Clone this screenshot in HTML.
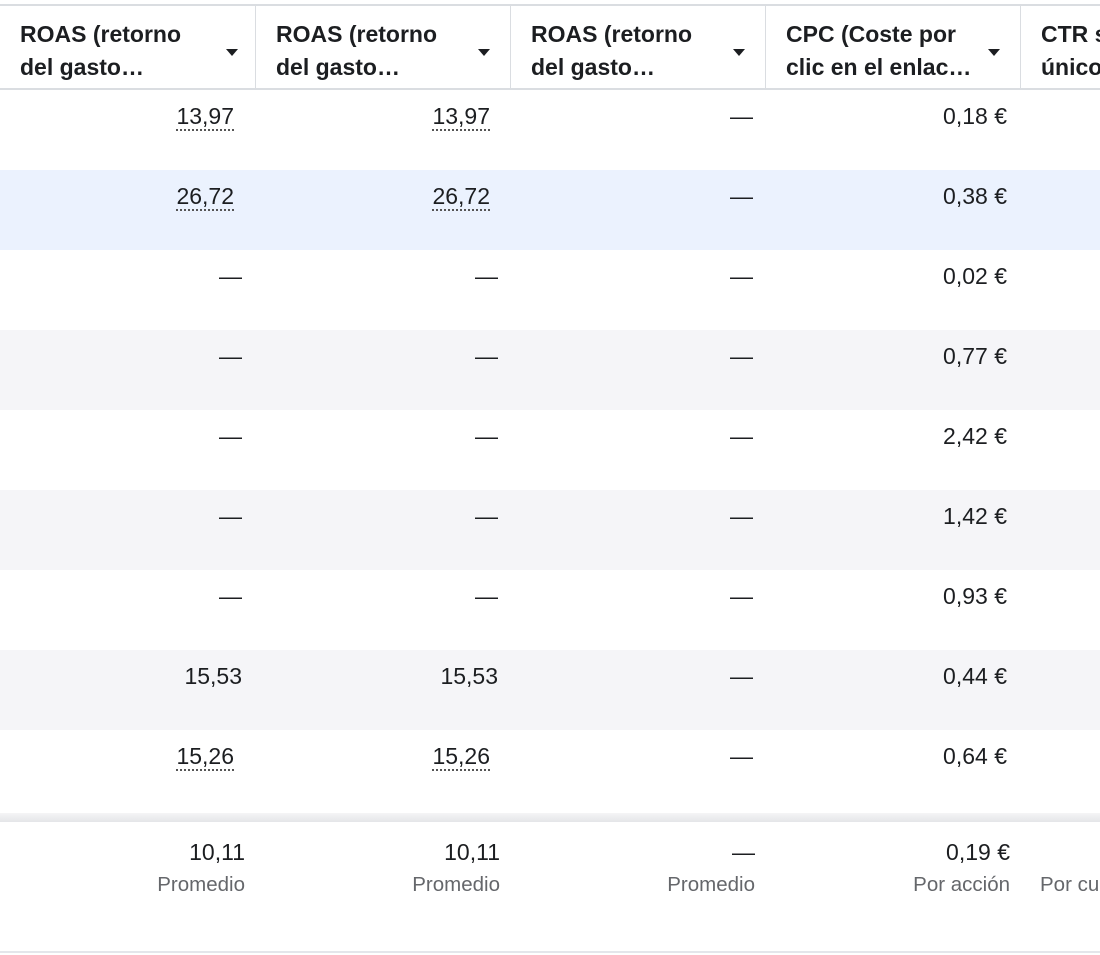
<!DOCTYPE html>
<html><head><meta charset="utf-8"><style>
html,body{margin:0;width:1100px;height:955px;overflow:hidden}
body{background:#fff;font-family:"Liberation Sans",sans-serif;color:#1c1e21;position:relative}
.abs{position:absolute}
.hdr{top:6px;height:83px;border-right:1px solid #dadde1;box-sizing:border-box;overflow:hidden}
.ht{position:absolute;left:20px;top:12px;font-size:23px;font-weight:bold;line-height:33px;white-space:nowrap}
.arrow{position:absolute;top:43px;width:0;height:0;border-left:6px solid transparent;border-right:6px solid transparent;border-top:7px solid #1c1e21}
.row{left:0;width:1100px;height:80px;overflow:hidden}
.v{position:absolute;font-size:23px;line-height:26px;text-align:right;white-space:nowrap}
.u{border-bottom:2px dotted #555;line-height:22px}
.sub{position:absolute;font-size:20.5px;color:#65676b;text-align:right;white-space:nowrap}
#footer{position:absolute;left:0;top:0;width:1100px;height:955px;overflow:hidden}
</style></head><body>
<div class="abs" style="left:0;top:4px;width:1100px;height:2px;background:#dadde1"></div>
<div id="header"></div>
<div class="abs" style="left:0;top:88px;width:1100px;height:2px;background:#dadde1"></div>
<div id="body"></div>
<div class="abs" style="left:0;top:813px;width:1100px;height:9px;background:linear-gradient(#f5f5f6,#e4e5e8)"></div>
<div id="footer"></div>
<div class="abs" style="left:0;top:951px;width:1100px;height:2px;background:#e4e6eb"></div>
<script>
const headers=[["ROAS (retorno","del gasto…"],["ROAS (retorno","del gasto…"],["ROAS (retorno","del gasto…"],["CPC (Coste por","clic en el enlac…"],["CTR sin","único"]];
const col1=["13,97","26,72","—","—","—","—","—","15,53","15,26"];
const col2=["13,97","26,72","—","—","—","—","—","15,53","15,26"];
const col3=["—","—","—","—","—","—","—","—","—"];
const col4=["0,18 €","0,38 €","0,02 €","0,77 €","2,42 €","1,42 €","0,93 €","0,44 €","0,64 €"];
const dotted=[true,true,false,false,false,false,false,false,true];
const totals=["10,11","10,11","—","0,19 €"];
const totalLabels=["Promedio","Promedio","Promedio","Por acción","Por cuenta"];
const colX=[0,256,511,766,1021];
const colW=255;
const H=document.getElementById('header');
headers.forEach((h,i)=>{
 const d=document.createElement('div');d.className='abs hdr';
 
 
 d.style.left=colX[i]+'px';d.style.width=(i==0?256:(i==4?79:colW))+'px';
 if(i==4)d.style.borderRight='none';
 d.innerHTML='<div class="ht">'+h[0]+'<br>'+h[1]+'</div>';
 if(i<4){const a=document.createElement('div');a.className='arrow';
  
  
  a.style.left=(i==0?226:222)+'px';d.appendChild(a);}
 H.appendChild(d);
});
const B=document.getElementById('body');
const cols=[col1,col2,col3,col4];
for(let r=0;r<col1.length;r++){
 const row=document.createElement('div');row.className='abs row';
 
 
 row.style.top=(90+r*80)+'px';
 row.style.background=r==1?'#ebf2fe':(r%2==1?'#f5f5f8':'#fff');
 cols.forEach((c,ci)=>{
  const v=document.createElement('div');v.className='v';
  
  
  const val=c[r];
  let right;
  if(val==='—'){right=colX[ci]+colW-(ci==3?0:13);}
  else if(ci==3) right=colX[ci]+colW-14;
  else right=colX[ci]+colW-(dotted[r]?21:13);
  v.style.right=(1100-right)+'px';v.style.top='13px';
  if(val!=='—'&&ci<2&&dotted[r]) v.innerHTML='<span class="u">'+val+'</span>';
  else v.textContent=val;
  row.appendChild(v);
 });
 B.appendChild(row);
}
const F=document.getElementById('footer');
const fr=[245,500,755,1010,1100];
totalLabels.forEach((l,i)=>{
 if(i<4){const t=document.createElement('div');t.className='v';
  
  
  t.style.right=(1100-fr[i])+'px';t.style.top='839px';t.textContent=totals[i];F.appendChild(t);}
 const s=document.createElement('div');s.className='sub';
 
 
 s.style.top='873px';
 if(i<4)s.style.right=(1100-fr[i])+'px';else s.style.left='1040px';
 s.textContent=l;F.appendChild(s);
});
</script>
</body></html>
